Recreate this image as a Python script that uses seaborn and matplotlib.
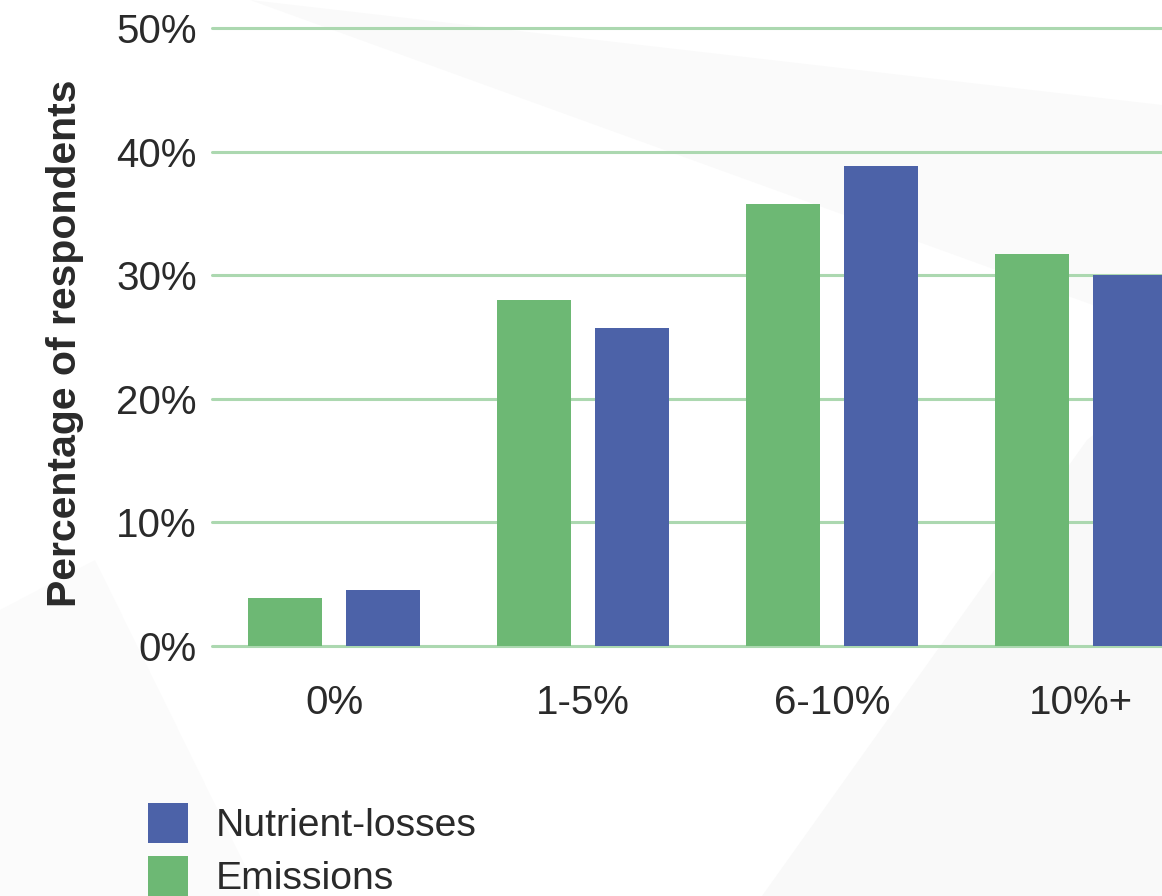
import matplotlib
matplotlib.use("Agg")
import matplotlib.pyplot as plt
from matplotlib.patches import Patch, Polygon
import seaborn as sns
import pandas as pd

# Share of respondents by expected reduction, per impact area
categories = ["0%", "1-5%", "6-10%", "10%+"]
emissions = [3.9, 28.0, 35.8, 31.7]
nutrient_losses = [4.5, 25.7, 38.8, 30.0]
series_order = ["Emissions", "Nutrient-losses"]
legend_order = ["Nutrient-losses", "Emissions"]
y_ticks = [0, 10, 20, 30, 40, 50]

colors = {"Emissions": "#6db874", "Nutrient-losses": "#4c62a8"}
grid_color = "#acd8b0"
text_color = "#2a2a2a"

df = pd.DataFrame({
    "category": categories * 2,
    "series": ["Emissions"] * len(categories) + ["Nutrient-losses"] * len(categories),
    "value": emissions + nutrient_losses,
})

sns.set_theme(style="white")
plt.rcParams["font.family"] = ["Liberation Sans", "DejaVu Sans"]

W, H = 1162, 896
fig = plt.figure(figsize=(W / 100, H / 100), dpi=100)
fig.patch.set_facecolor("white")

# faint background shapes
def px(points):
    return [(x / W, 1 - y / H) for x, y in points]

for pts, c in [
    ([(250, 0), (1162, 105), (1162, 330)], "#fafafa"),
    ([(1087, 440), (1162, 380), (1162, 896), (762, 896)], "#f9f9f9"),
    ([(0, 610), (95, 560), (260, 896), (0, 896)], "#fbfbfb"),
]:
    fig.patches.append(Polygon(px(pts), closed=True, transform=fig.transFigure,
                               facecolor=c, edgecolor="none", zorder=-10))

ax = fig.add_axes([212 / W, 1 - 646 / H, (W - 212) / W, (646 - 28) / H])
ax.patch.set_alpha(0)

sns.barplot(data=df, x="category", y="value", hue="series", order=categories,
            hue_order=series_order, palette=colors, width=0.788, gap=0.246,
            saturation=1, ax=ax, legend=False, zorder=3,
            edgecolor="none", linewidth=0)

ax.set_ylim(0, 50)
ax.set_xlim(-0.49, 3.325)
ax.set_yticks(y_ticks)
ax.set_yticklabels([f"{t}%" for t in y_ticks])
ax.yaxis.grid(True, color=grid_color, linewidth=2.2, zorder=0)
ax.set_axisbelow(True)
for gl in ax.yaxis.get_gridlines():
    gl.set_clip_on(False)
for s in ax.spines.values():
    s.set_visible(False)
ax.tick_params(axis="both", length=0, labelsize=29, colors=text_color)
ax.tick_params(axis="y", pad=11)
ax.tick_params(axis="x", pad=27)
ax.set_xlabel("")
ax.set_ylabel("Percentage of respondents", fontsize=29.5, fontweight="bold",
              color=text_color)
ax.yaxis.set_label_coords(-0.135, 0.489)

handles = [Patch(facecolor=colors[s], edgecolor="none", label=s) for s in legend_order]
fig.legend(handles=handles, loc="upper left", bbox_to_anchor=(148 / W, 1 - 803 / H),
           frameon=False, fontsize=28.2, handlelength=1.02, handleheight=1.19,
           handletextpad=0.72, labelspacing=0.3, borderpad=0, borderaxespad=0,
           labelcolor=text_color)

fig.savefig("out.png", dpi=100)
